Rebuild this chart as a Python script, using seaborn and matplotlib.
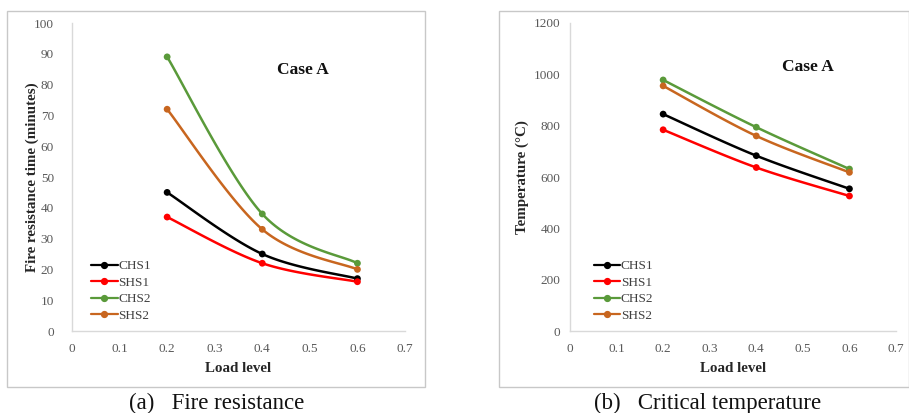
import numpy as np
import pandas as pd
import matplotlib
matplotlib.use("Agg")
import matplotlib.pyplot as plt
import seaborn as sns
from matplotlib.lines import Line2D
from matplotlib.patches import Rectangle

# ---- data ----
load_levels = [0.2, 0.4, 0.6]
series_names = ["CHS1", "SHS1", "CHS2", "SHS2"]
fire_CHS1 = [45, 25, 17]
fire_SHS1 = [37, 22, 16]
fire_CHS2 = [89, 38, 22]
fire_SHS2 = [72, 33, 20]
temp_CHS1 = [845, 683, 554]
temp_SHS1 = [784, 637, 526]
temp_CHS2 = [978, 794, 631]
temp_SHS2 = [955, 760, 618]
x_ticks = [0, 0.1, 0.2, 0.3, 0.4, 0.5, 0.6, 0.7]
fire_yticks = list(range(0, 101, 10))
temp_yticks = list(range(0, 1201, 200))

colors = {"CHS1": "#000000", "SHS1": "#ff0000", "CHS2": "#5a9a3a", "SHS2": "#c8661f"}

sns.set_theme(style="white")
plt.rcParams["font.family"] = ["Liberation Serif", "DejaVu Serif"]


def smooth_curve(xs, ys, xlim, ylim, axw, axh, n=40):
    # Excel-like smoothed line (Bezier with Catmull-Rom control points), computed in display-scaled space
    sx = axw / (xlim[1] - xlim[0])
    sy = axh / (ylim[1] - ylim[0])
    P = np.column_stack([np.asarray(xs, float) * sx, np.asarray(ys, float) * sy])
    m = len(P)
    out = []
    t = np.linspace(0, 1, n)[:, None]
    for i in range(m - 1):
        p0 = P[i]
        p3 = P[i + 1]
        pm = P[i - 1] if i > 0 else P[i]
        pp = P[i + 2] if i + 2 < m else P[i + 1]
        c1 = p0 + (p3 - pm) / 6.0
        c2 = p3 - (pp - p0) / 6.0
        seg = (1 - t) ** 3 * p0 + 3 * (1 - t) ** 2 * t * c1 + 3 * (1 - t) * t ** 2 * c2 + t ** 3 * p3
        out.append(seg if i == 0 else seg[1:])
    out = np.vstack(out)
    return out[:, 0] / sx, out[:, 1] / sy


fig = plt.figure(figsize=(9.09, 4.13), dpi=100)

# panel frames
for (x0, x1) in [(7, 425), (499, 909)]:
    fig.patches.append(Rectangle((x0 / 909, 1 - 387 / 413), (x1 - x0) / 909, (387 - 11) / 413,
                                 transform=fig.transFigure, fill=False, edgecolor="#c8c8c8", lw=1.0))

panels = [
    dict(pos=[72 / 909, 1 - 331 / 413, 333 / 909, 308 / 413],
         data=[fire_CHS1, fire_SHS1, fire_CHS2, fire_SHS2], ylim=(0, 100), yticks=fire_yticks,
         ylabel="Fire resistance time (minutes)", case=(0.486, 84.7), ypad=13, ylabx=-0.099,
         caption="(a)   Fire resistance", capx=217, legx=0.03),
    dict(pos=[570 / 909, 1 - 331 / 413, 326 / 909, 308 / 413],
         data=[temp_CHS1, temp_SHS1, temp_CHS2, temp_SHS2], ylim=(0, 1200), yticks=temp_yticks,
         ylabel="Temperature (\u00b0C)", case=(0.511, 1030), ypad=7, ylabx=-0.126,
         caption="(b)   Critical temperature", capx=708, legx=0.045),
]

for p in panels:
    ax = fig.add_axes(p["pos"])
    rows = []
    for name, vals in zip(series_names, p["data"]):
        for x, v in zip(load_levels, vals):
            rows.append(dict(x=x, y=v, s=name))
    df = pd.DataFrame(rows)
    xlim = (0, 0.7)
    axw = p["pos"][2] * 909
    axh = p["pos"][3] * 413
    for name, vals in zip(series_names, p["data"]):
        cx, cy = smooth_curve(load_levels, vals, xlim, p["ylim"], axw, axh)
        ax.plot(cx, cy, color=colors[name], lw=1.8, zorder=2)
    sns.scatterplot(data=df, x="x", y="y", hue="s", palette=colors, s=24, edgecolor="none",
                    ax=ax, legend=False, zorder=3)
    ax.set_xlim(*xlim)
    ax.set_ylim(*p["ylim"])
    ax.set_xticks(x_ticks)
    ax.set_xticklabels(["0" if v == 0 else f"{v:g}" for v in x_ticks])
    ax.set_yticks(p["yticks"])
    ax.tick_params(axis="both", length=0, labelsize=9.5, labelcolor="#595959")
    ax.tick_params(axis="x", pad=9)
    ax.tick_params(axis="y", pad=p["ypad"])
    for side in ["top", "right"]:
        ax.spines[side].set_visible(False)
    for side in ["left", "bottom"]:
        ax.spines[side].set_color("#d9d9d9")
        ax.spines[side].set_linewidth(1.0)
    ax.set_xlabel("Load level", fontsize=10.8, fontweight="bold", color="#262626", labelpad=5)
    ax.set_ylabel(p["ylabel"], fontsize=10.8, fontweight="bold", color="#262626")
    ax.yaxis.set_label_coords(p["ylabx"], 0.5)
    ax.text(p["case"][0], p["case"][1], "Case A", fontsize=12.5, fontweight="bold",
            ha="center", va="center", color="#111111")
    handles = [Line2D([0], [0], color=colors[n], lw=1.6, marker="o", markersize=4.2) for n in series_names]
    leg = ax.legend(handles, series_names, loc="lower left", bbox_to_anchor=(p["legx"], 0.0),
                    frameon=False, fontsize=9.5, handlelength=2.0, handletextpad=0.05,
                    labelspacing=0.32, borderaxespad=0.3)
    for t in leg.get_texts():
        t.set_color("#404040")
    ax.set_facecolor("none")
    fig.text(p["capx"] / 909, 1 - 403 / 413, p["caption"], fontsize=16.5, ha="center",
             va="center", color="#111111")

fig.savefig("out.png", dpi=100)
